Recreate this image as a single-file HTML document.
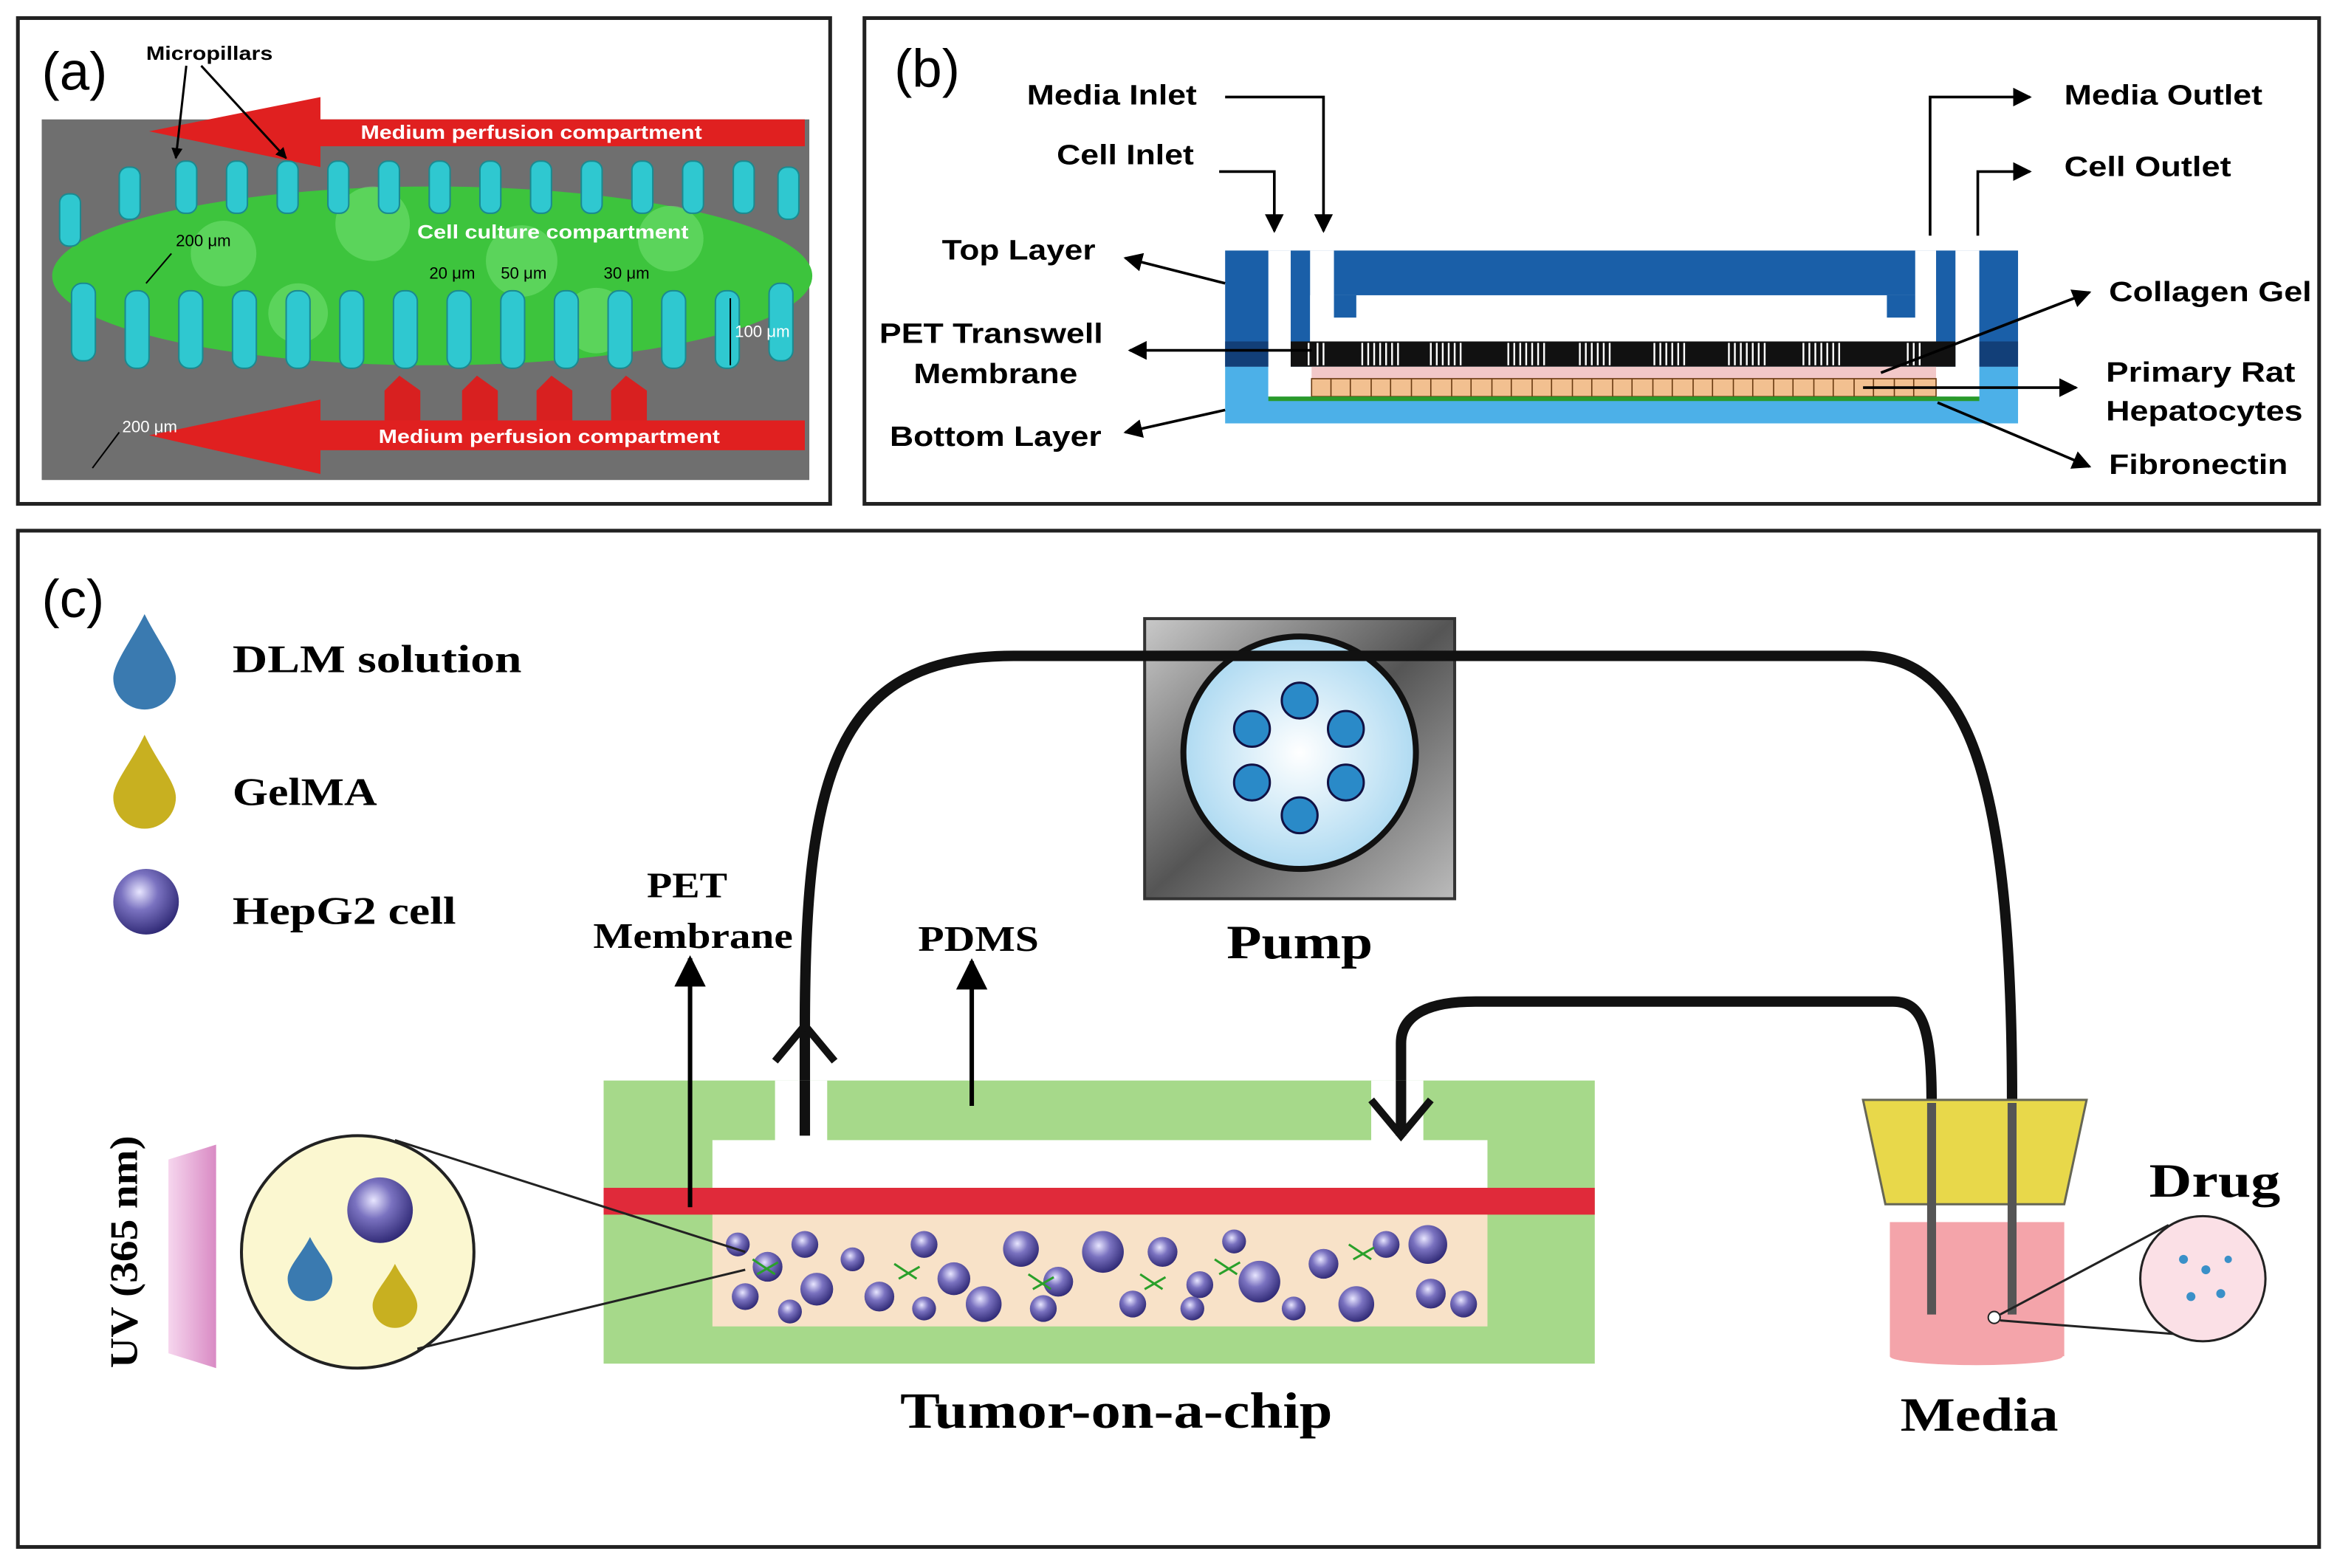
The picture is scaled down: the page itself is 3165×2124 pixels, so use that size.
<!DOCTYPE html>
<html><head><meta charset="utf-8"><style>
html,body{margin:0;padding:0;background:#fff}
svg{display:block}
.s{font-family:"Liberation Sans",sans-serif;font-weight:bold}
.r{font-family:"Liberation Serif",serif;font-weight:bold}
</style></head><body>
<svg width="3165" height="2124" viewBox="0 0 1568 1052" xmlns="http://www.w3.org/2000/svg">
<defs>
<radialGradient id="cell" cx="0.4" cy="0.35" r="0.7"><stop offset="0" stop-color="#e8e6ff"/><stop offset="0.4" stop-color="#7a72c0"/><stop offset="1" stop-color="#2a2470"/></radialGradient>
<radialGradient id="pumpc" cx="0.5" cy="0.5" r="0.6"><stop offset="0" stop-color="#ffffff"/><stop offset="1" stop-color="#9fd3ef"/></radialGradient>
<linearGradient id="pumpbg" x1="0" y1="0" x2="1" y2="1"><stop offset="0" stop-color="#c9c9c9"/><stop offset="0.5" stop-color="#555"/><stop offset="1" stop-color="#bbb"/></linearGradient>
<linearGradient id="uv" x1="0" x2="1"><stop offset="0" stop-color="#f6d6ee"/><stop offset="1" stop-color="#d98ac4"/></linearGradient>
<marker id="ah" viewBox="0 0 10 10" refX="9" refY="5" markerWidth="7" markerHeight="7" orient="auto"><path d="M0,0L10,5L0,10z" fill="#000"/></marker>
<marker id="ah2" viewBox="0 0 10 10" refX="9" refY="5" markerWidth="5" markerHeight="5" orient="auto"><path d="M0,0L10,5L0,10z" fill="#000"/></marker>
</defs>
<rect width="1568" height="1052" fill="#fff"/>
<!-- panel a -->
<rect x="12" y="12" width="545" height="326" fill="#fff" stroke="#222" stroke-width="2.5"/>
<rect x="28" y="80" width="515" height="242" fill="#6f6f6f"/>
<path d="M100,88 L215,65 L215,80 L540,80 L540,98 L215,98 L215,112 Z" fill="#e02020"/>
<path d="M100,292 L215,268 L215,282 L540,282 L540,302 L215,302 L215,318 Z" fill="#e02020"/>
<g fill="#d82020"><path d="M258,282 L258,262 L268,252 L282,262 L282,282Z"/><path d="M310,282 L310,262 L320,252 L334,262 L334,282Z"/><path d="M360,282 L360,262 L370,252 L384,262 L384,282Z"/><path d="M410,282 L410,262 L420,252 L434,262 L434,282Z"/></g>
<ellipse cx="290" cy="185" rx="255" ry="60" fill="#3dc43d"/>
<g fill="#6fe06f" opacity="0.6"><circle cx="150" cy="170" r="22"/><circle cx="250" cy="150" r="25"/><circle cx="350" cy="175" r="24"/><circle cx="450" cy="160" r="22"/><circle cx="200" cy="210" r="20"/><circle cx="400" cy="215" r="22"/></g>
<g fill="#2fc8d0" stroke="#1a8a90" stroke-width="1">
<rect x="40" y="130" width="14" height="35" rx="6"/><rect x="80" y="112" width="14" height="35" rx="6"/><rect x="118" y="108" width="14" height="35" rx="6"/><rect x="152" y="108" width="14" height="35" rx="6"/><rect x="186" y="108" width="14" height="35" rx="6"/><rect x="220" y="108" width="14" height="35" rx="6"/><rect x="254" y="108" width="14" height="35" rx="6"/><rect x="288" y="108" width="14" height="35" rx="6"/><rect x="322" y="108" width="14" height="35" rx="6"/><rect x="356" y="108" width="14" height="35" rx="6"/><rect x="390" y="108" width="14" height="35" rx="6"/><rect x="424" y="108" width="14" height="35" rx="6"/><rect x="458" y="108" width="14" height="35" rx="6"/><rect x="492" y="108" width="14" height="35" rx="6"/><rect x="522" y="112" width="14" height="35" rx="6"/>
<rect x="48" y="190" width="16" height="52" rx="7"/><rect x="84" y="195" width="16" height="52" rx="7"/><rect x="120" y="195" width="16" height="52" rx="7"/><rect x="156" y="195" width="16" height="52" rx="7"/><rect x="192" y="195" width="16" height="52" rx="7"/><rect x="228" y="195" width="16" height="52" rx="7"/><rect x="264" y="195" width="16" height="52" rx="7"/><rect x="300" y="195" width="16" height="52" rx="7"/><rect x="336" y="195" width="16" height="52" rx="7"/><rect x="372" y="195" width="16" height="52" rx="7"/><rect x="408" y="195" width="16" height="52" rx="7"/><rect x="444" y="195" width="16" height="52" rx="7"/><rect x="480" y="195" width="16" height="52" rx="7"/><rect x="516" y="190" width="16" height="52" rx="7"/>
</g>
<text x="28" y="60" font-family="Liberation Sans,sans-serif" font-size="36">(a)</text>
<text x="98" y="40" class="s" font-size="13" textLength="85" lengthAdjust="spacingAndGlyphs">Micropillars</text>
<line x1="125" y1="44" x2="118" y2="106" stroke="#000" stroke-width="1.5" marker-end="url(#ah2)"/>
<line x1="135" y1="44" x2="192" y2="106" stroke="#000" stroke-width="1.5" marker-end="url(#ah2)"/>
<text x="242" y="93" class="s" font-size="13" fill="#fff" textLength="229" lengthAdjust="spacingAndGlyphs">Medium perfusion compartment</text>
<text x="254" y="297" class="s" font-size="13" fill="#fff" textLength="229" lengthAdjust="spacingAndGlyphs">Medium perfusion compartment</text>
<text x="280" y="160" class="s" font-size="13" fill="#fff" textLength="182" lengthAdjust="spacingAndGlyphs">Cell culture compartment</text>
<g font-family="Liberation Sans,sans-serif" font-size="11" fill="#000"><text x="118" y="165">200 μm</text><text x="288" y="187">20 μm</text><text x="336" y="187">50 μm</text><text x="405" y="187">30 μm</text><text x="493" y="226" fill="#fff">100 μm</text><text x="82" y="290" fill="#fff">200 μm</text></g>
<line x1="490" y1="200" x2="490" y2="245" stroke="#000"/>
<line x1="115" y1="170" x2="98" y2="190" stroke="#000"/>
<line x1="80" y1="290" x2="62" y2="314" stroke="#000"/>
<!-- panel b -->
<rect x="580" y="12" width="976" height="326" fill="#fff" stroke="#222" stroke-width="2.5"/>
<text x="600" y="58" font-family="Liberation Sans,sans-serif" font-size="36">(b)</text>
<rect x="822" y="168" width="532" height="78" fill="#1a5fa8"/>
<rect x="822" y="229" width="532" height="17" fill="#123f78"/>
<rect x="822" y="246" width="532" height="38" fill="#4cb0e8"/>
<rect x="851" y="168" width="15" height="98" fill="#fff"/>
<rect x="879" y="168" width="16" height="62" fill="#fff"/>
<rect x="1285" y="168" width="14" height="62" fill="#fff"/>
<rect x="1312" y="168" width="16" height="98" fill="#fff"/>
<rect x="879" y="198" width="420" height="32" fill="#fff"/>
<rect x="895" y="198" width="15" height="15" fill="#1a5fa8"/>
<rect x="1266" y="198" width="19" height="15" fill="#1a5fa8"/>
<rect x="866" y="229" width="446" height="17" fill="#111"/>
<g stroke="#fff" stroke-width="1.2">
<path d="M878,230V245M884,230V245M888,230V245M914,230V245M918,230V245M922,230V245M926,230V245M930,230V245M934,230V245M938,230V245M960,230V245M964,230V245M968,230V245M972,230V245M976,230V245M980,230V245M1012,230V245M1016,230V245M1020,230V245M1024,230V245M1028,230V245M1032,230V245M1036,230V245M1060,230V245M1064,230V245M1068,230V245M1072,230V245M1076,230V245M1080,230V245M1110,230V245M1114,230V245M1118,230V245M1122,230V245M1126,230V245M1130,230V245M1160,230V245M1164,230V245M1168,230V245M1172,230V245M1176,230V245M1180,230V245M1184,230V245M1210,230V245M1214,230V245M1218,230V245M1222,230V245M1226,230V245M1230,230V245M1234,230V245M1280,230V245M1284,230V245M1288,230V245"/></g>
<rect x="851" y="246" width="477" height="20" fill="#fff"/>
<rect x="880" y="246" width="419" height="8" fill="#f2c8c8"/>
<rect x="880" y="254" width="419" height="12" fill="#f2c090" stroke="#6a3a10" stroke-width="0.8"/>
<g stroke="#6a3a10" stroke-width="0.8"><path d="M893,254V266M906,254V266M920,254V266M933,254V266M947,254V266M960,254V266M974,254V266M987,254V266M1001,254V266M1014,254V266M1028,254V266M1041,254V266M1055,254V266M1068,254V266M1082,254V266M1095,254V266M1109,254V266M1122,254V266M1136,254V266M1149,254V266M1163,254V266M1176,254V266M1190,254V266M1203,254V266M1217,254V266M1230,254V266M1244,254V266M1257,254V266M1271,254V266M1284,254V266"/></g>
<rect x="851" y="266" width="477" height="3" fill="#2a9a2a"/>
<g font-family="Liberation Sans,sans-serif" font-weight="bold" font-size="19">
<text x="689" y="70" textLength="114" lengthAdjust="spacingAndGlyphs">Media Inlet</text><text x="709" y="110" textLength="92" lengthAdjust="spacingAndGlyphs">Cell Inlet</text><text x="632" y="174" textLength="103" lengthAdjust="spacingAndGlyphs">Top Layer</text><text x="590" y="230" textLength="150" lengthAdjust="spacingAndGlyphs">PET Transwell</text><text x="613" y="257" textLength="110" lengthAdjust="spacingAndGlyphs">Membrane</text><text x="597" y="299" textLength="142" lengthAdjust="spacingAndGlyphs">Bottom Layer</text>
<text x="1385" y="70" textLength="133" lengthAdjust="spacingAndGlyphs">Media Outlet</text><text x="1385" y="118" textLength="112" lengthAdjust="spacingAndGlyphs">Cell Outlet</text><text x="1415" y="202" textLength="136" lengthAdjust="spacingAndGlyphs">Collagen Gel</text><text x="1413" y="256" textLength="127" lengthAdjust="spacingAndGlyphs">Primary Rat</text><text x="1413" y="282" textLength="132" lengthAdjust="spacingAndGlyphs">Hepatocytes</text><text x="1415" y="318" textLength="120" lengthAdjust="spacingAndGlyphs">Fibronectin</text></g>
<g stroke="#000" stroke-width="1.8" fill="none">
<path d="M822,65 L888,65 L888,155" marker-end="url(#ah)"/>
<path d="M818,115 L855,115 L855,155" marker-end="url(#ah)"/>
<path d="M1295,158 L1295,65 L1362,65" marker-end="url(#ah)"/>
<path d="M1327,158 L1327,115 L1362,115" marker-end="url(#ah)"/>
<path d="M822,190 L755,173" marker-end="url(#ah)"/>
<path d="M880,235 L758,235" marker-end="url(#ah)"/>
<path d="M822,275 L755,290" marker-end="url(#ah)"/>
<path d="M1262,250 L1402,196" marker-end="url(#ah)"/>
<path d="M1250,260 L1393,260" marker-end="url(#ah)"/>
<path d="M1300,270 L1402,313" marker-end="url(#ah)"/></g>
<!-- panel c -->
<rect x="12" y="356" width="1544" height="682" fill="#fff" stroke="#222" stroke-width="2.5"/>
<text x="28" y="414" font-family="Liberation Sans,sans-serif" font-size="36">(c)</text>
<path d="M97,412 C88,430 76,445 76,455 A21,21 0 0 0 118,455 C118,445 106,430 97,412Z" fill="#3a7ab0"/>
<path d="M97,493 C88,512 76,525 76,535 A21,21 0 0 0 118,535 C118,525 106,512 97,493Z" fill="#c8b020"/>
<circle cx="98" cy="605" r="22" fill="url(#cell)"/>
<g class="r" font-size="26"><text x="156" y="451" textLength="194" lengthAdjust="spacingAndGlyphs">DLM  solution</text><text x="156" y="540" textLength="97" lengthAdjust="spacingAndGlyphs">GelMA</text><text x="156" y="620" textLength="150" lengthAdjust="spacingAndGlyphs">HepG2 cell</text></g>
<rect x="768" y="415" width="208" height="188" fill="url(#pumpbg)" stroke="#333" stroke-width="2"/>
<circle cx="872" cy="505" r="78" fill="url(#pumpc)" stroke="#111" stroke-width="4"/>
<g fill="#2a8ac8" stroke="#114" stroke-width="1.5"><circle cx="872" cy="470" r="12"/><circle cx="903" cy="489" r="12"/><circle cx="903" cy="525" r="12"/><circle cx="872" cy="547" r="12"/><circle cx="840" cy="525" r="12"/><circle cx="840" cy="489" r="12"/></g>
<text x="823" y="643" class="r" font-size="32" textLength="98" lengthAdjust="spacingAndGlyphs">Pump</text>
<path d="M540,762 L540,690 C540,520 560,440 680,440 L1250,440 C1320,440 1350,520 1350,740" fill="none" stroke="#111" stroke-width="7"/>
<path d="M520,712 L540,688 L560,712" fill="none" stroke="#111" stroke-width="5"/>
<path d="M940,760 L940,700 C940,680 960,672 990,672 L1270,672 C1290,672 1296,690 1296,740" fill="none" stroke="#111" stroke-width="7"/>
<path d="M920,738 L940,762 L960,738" fill="none" stroke="#111" stroke-width="5"/>
<rect x="405" y="725" width="665" height="190" fill="#a6d98a"/>
<rect x="478" y="765" width="520" height="32" fill="#fff"/>
<rect x="520" y="725" width="35" height="42" fill="#fff"/><rect x="920" y="725" width="35" height="42" fill="#fff"/>
<path d="M540,762 L540,725" stroke="#111" stroke-width="7"/>
<path d="M940,762 L940,725" stroke="#111" stroke-width="7"/>
<path d="M920,738 L940,762 L960,738" fill="none" stroke="#111" stroke-width="5"/>
<rect x="405" y="797" width="665" height="18" fill="#e02a3a"/>
<rect x="478" y="815" width="520" height="75" fill="#f8e2c8"/>
<g fill="url(#cell)">
<circle cx="495" cy="835" r="8"/><circle cx="515" cy="850" r="10"/><circle cx="500" cy="870" r="9"/><circle cx="540" cy="835" r="9"/><circle cx="548" cy="865" r="11"/><circle cx="572" cy="845" r="8"/><circle cx="590" cy="870" r="10"/><circle cx="620" cy="835" r="9"/><circle cx="640" cy="858" r="11"/><circle cx="660" cy="875" r="12"/><circle cx="685" cy="838" r="12"/><circle cx="710" cy="860" r="10"/><circle cx="740" cy="840" r="14"/><circle cx="760" cy="875" r="9"/><circle cx="780" cy="840" r="10"/><circle cx="805" cy="862" r="9"/><circle cx="828" cy="833" r="8"/><circle cx="845" cy="860" r="14"/><circle cx="868" cy="878" r="8"/><circle cx="888" cy="848" r="10"/><circle cx="910" cy="875" r="12"/><circle cx="930" cy="835" r="9"/><circle cx="958" cy="835" r="13"/><circle cx="960" cy="868" r="10"/><circle cx="982" cy="875" r="9"/><circle cx="700" cy="878" r="9"/><circle cx="620" cy="878" r="8"/><circle cx="530" cy="880" r="8"/><circle cx="800" cy="878" r="8"/></g>
<g stroke="#2aa02a" stroke-width="1.5" fill="none"><path d="M505,845 l15,10 m-12,0 l14,-8"/><path d="M600,848 l15,10 m-12,0 l14,-8"/><path d="M690,855 l15,10 m-12,0 l14,-8"/><path d="M815,845 l15,10 m-12,0 l14,-8"/><path d="M905,835 l15,10 m-12,0 l14,-8"/><path d="M765,855 l15,10 m-12,0 l14,-8"/></g>
<line x1="463" y1="810" x2="463" y2="643" stroke="#000" stroke-width="3" marker-end="url(#ah)"/>
<line x1="652" y1="742" x2="652" y2="645" stroke="#000" stroke-width="3" marker-end="url(#ah)"/>
<g class="r" font-size="24"><text x="434" y="602" textLength="54" lengthAdjust="spacingAndGlyphs">PET</text><text x="398" y="636" textLength="134" lengthAdjust="spacingAndGlyphs">Membrane</text><text x="616" y="638" textLength="81" lengthAdjust="spacingAndGlyphs">PDMS</text></g>
<text x="604" y="958" class="r" font-size="34" textLength="290" lengthAdjust="spacingAndGlyphs">Tumor-on-a-chip</text>
<circle cx="240" cy="840" r="78" fill="#fbf7d0" stroke="#222" stroke-width="2"/>
<line x1="265" y1="765" x2="500" y2="840" stroke="#222" stroke-width="1.5"/>
<line x1="280" y1="905" x2="500" y2="852" stroke="#222" stroke-width="1.5"/>
<circle cx="255" cy="812" r="22" fill="url(#cell)"/>
<path d="M208,830 C202,842 193,850 193,858 A15,15 0 0 0 223,858 C223,850 214,842 208,830Z" fill="#3a7ab0"/>
<path d="M265,848 C259,860 250,868 250,876 A15,15 0 0 0 280,876 C280,868 271,860 265,848Z" fill="#c8b020"/>
<path d="M113,778 L145,768 L145,918 L113,908Z" fill="url(#uv)"/>
<text transform="translate(92,918) rotate(-90)" class="r" font-size="26" textLength="156" lengthAdjust="spacingAndGlyphs">UV (365 nm)</text>
<path d="M1250,738 L1400,738 L1385,808 L1265,808Z" fill="#e8d84a" stroke="#665" stroke-width="1.5"/>
<rect x="1268" y="820" width="117" height="90" fill="#f4a4aa"/>
<ellipse cx="1326" cy="910" rx="58" ry="6" fill="#f4a4aa"/>
<line x1="1296" y1="740" x2="1296" y2="882" stroke="#555" stroke-width="6"/>
<line x1="1350" y1="740" x2="1350" y2="882" stroke="#555" stroke-width="6"/>
<text x="1275" y="960" class="r" font-size="32" textLength="106" lengthAdjust="spacingAndGlyphs">Media</text>
<text x="1442" y="803" class="r" font-size="32" textLength="88" lengthAdjust="spacingAndGlyphs">Drug</text>
<circle cx="1478" cy="858" r="42" fill="#fbe0e6" stroke="#222" stroke-width="1.5"/>
<circle cx="1338" cy="884" r="4" fill="#fff" stroke="#222"/>
<line x1="1342" y1="882" x2="1455" y2="822" stroke="#222" stroke-width="1.5"/>
<line x1="1342" y1="886" x2="1458" y2="895" stroke="#222" stroke-width="1.5"/>
<g fill="#3a90c8"><circle cx="1465" cy="845" r="3"/><circle cx="1480" cy="852" r="3"/><circle cx="1490" cy="868" r="3"/><circle cx="1470" cy="870" r="3"/><circle cx="1495" cy="845" r="2.5"/></g>
</svg>
</body></html>
